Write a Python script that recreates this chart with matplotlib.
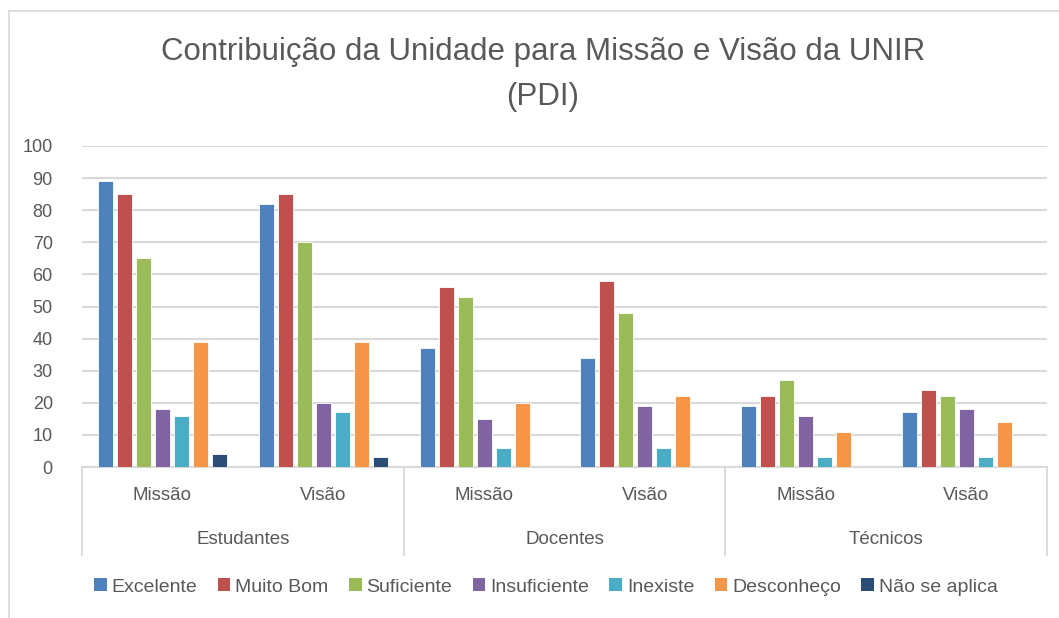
import matplotlib
matplotlib.use("Agg")
import matplotlib.pyplot as plt
from matplotlib.patches import Patch
from matplotlib.lines import Line2D
import numpy as np

plt.rcParams['font.family'] = ['Liberation Sans Narrow', 'Liberation Sans', 'DejaVu Sans']

title = "Contribuição da Unidade para Missão e Visão da UNIR\n(PDI)"
groups = ["Estudantes", "Docentes", "Técnicos"]
subcats = ["Missão", "Visão"]
series = ["Excelente", "Muito Bom", "Suficiente", "Insuficiente", "Inexiste", "Desconheço", "Não se aplica"]
colors = ["#4F81BD", "#C0504D", "#9BBB59", "#8064A2", "#4BACC6", "#F79646", "#2C4D75"]

excelente = [89, 82, 37, 34, 19, 17]
muito_bom = [85, 85, 56, 58, 22, 24]
suficiente = [65, 70, 53, 48, 27, 22]
insuficiente = [18, 20, 15, 19, 16, 18]
inexiste = [16, 17, 6, 6, 3, 3]
desconheco = [39, 39, 20, 22, 11, 14]
nao_se_aplica = [4, 3, 0, 0, 0, 0]
values = [excelente, muito_bom, suficiente, insuficiente, inexiste, desconheco, nao_se_aplica]

W, H = 1059, 618
fig = plt.figure(figsize=(W / 100, H / 100), dpi=100)
ax = fig.add_axes([82 / W, 1 - 467 / H, (1047 - 82) / W, (467 - 146) / H])

ncat = len(excelente)
x = np.arange(ncat)
slot = 19 / 160.8
bw = 15 / 160.8
for i, (s, vals, c) in enumerate(zip(series, values, colors)):
    ax.bar(x + (i - 3) * slot, vals, width=bw, color=c, edgecolor="white", linewidth=0.6, zorder=3)

ax.set_xlim(-0.5, ncat - 0.5)
ax.set_ylim(0, 100)
ax.set_yticks(range(0, 101, 10))
ax.yaxis.grid(True, color="#D9D9D9", linewidth=1.5, zorder=0)
ax.tick_params(axis="y", length=0, labelsize=13, labelcolor="#595959", pad=21)
ax.set_xticks([])
for sp in ["top", "right", "left"]:
    ax.spines[sp].set_visible(False)
ax.spines["bottom"].set_color("#D9D9D9")
ax.spines["bottom"].set_linewidth(1.5)
for lbl in ax.get_yticklabels():
    lbl.set_horizontalalignment("right")

# multi-level category axis
trans = ax.get_xaxis_transform()
for b in [-0.5, 1.5, 3.5, 5.5]:
    ax.add_line(Line2D([b, b], [0, -(555 - 467) / (467 - 146)], transform=trans,
                       color="#D9D9D9", linewidth=1.3, clip_on=False))
for k in range(ncat):
    ax.text(k, -(495 - 467) / (467 - 146), subcats[k % 2], transform=trans, ha="center", va="center",
            fontsize=13.5, color="#595959")
for g, name in enumerate(groups):
    ax.text(2 * g + 0.5, -(540 - 467) / (467 - 146), name, transform=trans, ha="center", va="center",
            fontsize=13.5, color="#595959")

fig.text(543 / W, 1 - 52 / H, title.split("\n")[0], ha="center", va="center", fontsize=22.5, color="#595959")
fig.text(543 / W, 1 - 97 / H, title.split("\n")[1], ha="center", va="center", fontsize=22.5, color="#595959")

handles = [Patch(facecolor=c, edgecolor="none") for c in colors]
fig.legend(handles, series, loc="center", bbox_to_anchor=(546 / W, 1 - 587 / H), ncol=7,
           frameon=False, fontsize=14, labelcolor="#595959", handlelength=0.65, handleheight=0.65,
           handletextpad=0.25, columnspacing=1.05)

# chart border (top and left)
fig.add_artist(Line2D([9 / W, 1], [1 - 11 / H, 1 - 11 / H], transform=fig.transFigure, color="#D9D9D9", linewidth=1.2))
fig.add_artist(Line2D([9 / W, 9 / W], [0, 1 - 11 / H], transform=fig.transFigure, color="#D9D9D9", linewidth=1.2))

fig.savefig("out.png", dpi=100, facecolor="white")
